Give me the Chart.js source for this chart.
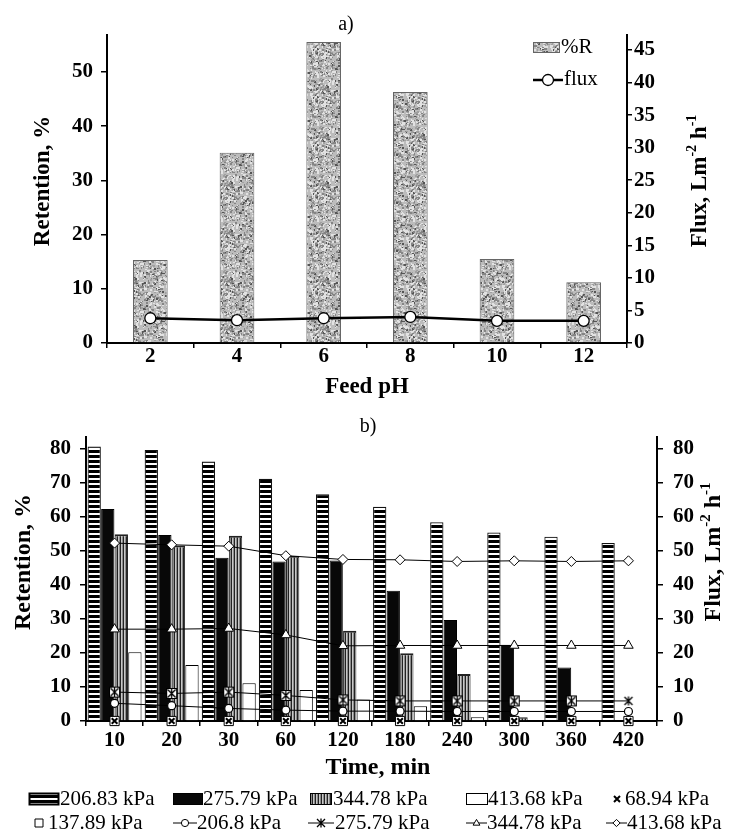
<!DOCTYPE html>
<html lang="en">
<head>
<meta charset="UTF-8">
<title>Retention and flux</title>
<script src="https://cdn.jsdelivr.net/npm/chart.js"></script>
<style>
  body { margin: 0; background: #fff; }
  canvas { display: block; }
</style>
</head>
<body>
<canvas id="chartA" width="734" height="405"></canvas>
<canvas id="chartB" width="734" height="427"></canvas>
<script>
// ---- data: a) feed pH ----
const phLabels = ['2', '4', '6', '8', '10', '12'];
const retentionPH = [15.3, 35.1, 55.5, 46.3, 15.5, 11.2];
const fluxPH = [3.8, 3.5, 3.8, 4.0, 3.4, 3.4];

// ---- data: b) time ----
const timeLabels = ['10', '20', '30', '60', '120', '180', '240', '300', '360', '420'];
const ret20683 = [80.7, 79.7, 76.3, 71.2, 66.7, 63.0, 58.4, 55.4, 54.2, 52.3];
const ret27579 = [62.3, 54.7, 48.0, 46.9, 47.2, 38.3, 29.7, 22.4, 15.7, 0];
const ret34478 = [54.9, 51.6, 54.5, 48.6, 26.5, 19.9, 13.8, 1.1, 0, 0];
const ret41368 = [20.2, 16.5, 11.1, 9.1, 6.3, 4.3, 1.1, 0, 0, 0];
const flux6894 = [0, 0, 0, 0, 0, 0, 0, 0, 0, 0];
const flux13789 = [0, 0, 0, 0, 0, 0, 0, 0, 0, 0];
const flux2068 = [5.2, 4.5, 3.7, 3.2, 2.9, 2.9, 2.8, 2.8, 2.8, 2.8];
const flux27579 = [8.5, 8.1, 8.5, 7.5, 6.2, 5.9, 5.9, 5.9, 5.9, 5.9];
const flux34478 = [27.0, 27.0, 27.2, 25.3, 22.1, 22.2, 22.2, 22.2, 22.2, 22.2];
const flux41368 = [52.3, 51.8, 51.4, 48.6, 47.5, 47.4, 46.9, 47.1, 46.9, 47.1];

const FONT = '"Liberation Serif", "Times New Roman", serif';

// ---- fill patterns ----
function tile(w, h, paint) {
  const c = document.createElement('canvas');
  c.width = w; c.height = h;
  paint(c.getContext('2d'));
  return c;
}
const graniteTile = tile(48, 48, g => {
  g.fillStyle = '#bcbcbc';
  g.fillRect(0, 0, 48, 48);
  let s = 11;
  const next = () => { s = (s * 16807) % 2147483647; return s / 2147483647; };
  for (let i = 0; i < 700; i++) {
    const x = Math.floor(next() * 48), y = Math.floor(next() * 48), t = next();
    g.fillStyle = t < 0.3 ? '#858585' : t < 0.42 ? '#555' : t < 0.8 ? '#e2e2e2' : '#a0a0a0';
    g.fillRect(x, y, next() < 0.6 ? 2 : 1, next() < 0.6 ? 2 : 1);
  }
});
const hStripeTile = tile(1, 5, g => {
  g.fillStyle = '#fff'; g.fillRect(0, 0, 1, 5);
  g.fillStyle = '#000'; g.fillRect(0, 0, 1, 3);
});
const vStripeTile = tile(3, 1, g => {
  g.fillStyle = '#222'; g.fillRect(0, 0, 1, 1);
  g.fillStyle = '#c8c8c8'; g.fillRect(1, 0, 1, 1);
  g.fillStyle = '#8c8c8c'; g.fillRect(2, 0, 1, 1);
});
function starMark(boxed) {
  const n = boxed ? 13 : 12;
  return tile(n, n, g => {
    const m = n / 2, r = 4;
    if (boxed) {
      g.fillStyle = '#fff'; g.fillRect(1.5, 1.5, n - 3, n - 3);
      g.strokeStyle = '#000'; g.lineWidth = 1; g.strokeRect(1.5, 1.5, n - 3, n - 3);
    }
    g.strokeStyle = '#000'; g.lineWidth = 1.3;
    g.beginPath();
    g.moveTo(m - r, m - r); g.lineTo(m + r, m + r);
    g.moveTo(m + r, m - r); g.lineTo(m - r, m + r);
    g.moveTo(m, m - r - 0.5); g.lineTo(m, m + r + 0.5);
    g.stroke();
  });
}
const boxedStar = starMark(true);
const plainStar = starMark(false);

const ctxA = document.getElementById('chartA').getContext('2d');
const ctxB = document.getElementById('chartB').getContext('2d');
const granite = ctxA.createPattern(graniteTile, 'repeat');
const hStripes = ctxB.createPattern(hStripeTile, 'repeat');
const vStripes = ctxB.createPattern(vStripeTile, 'repeat');

// ---- small drawing helpers for titles and legends ----
function drawText(ctx, t) {
  ctx.save();
  ctx.fillStyle = '#000';
  ctx.textBaseline = 'middle';
  ctx.translate(t.x, t.y);
  if (t.rot) ctx.rotate(t.rot);
  const size = t.size, weight = t.bold ? 'bold ' : '';
  const parts = t.parts || [{ s: t.text }];
  let total = 0;
  parts.forEach(p => {
    ctx.font = weight + Math.round(p.sup ? size * 0.62 : size) + 'px ' + FONT;
    p.w = ctx.measureText(p.s).width;
    total += p.w;
  });
  let x = t.align === 'left' ? 0 : -total / 2;
  parts.forEach(p => {
    ctx.font = weight + Math.round(p.sup ? size * 0.62 : size) + 'px ' + FONT;
    ctx.textAlign = 'left';
    ctx.fillText(p.s, x, p.sup ? -size * 0.33 : 0);
    x += p.w;
  });
  ctx.restore();
}
function drawMarker(ctx, style, x, y, r, lw) {
  ctx.save();
  ctx.strokeStyle = '#000';
  ctx.fillStyle = '#fff';
  ctx.lineWidth = lw || 1;
  if (style === 'star') {
    ctx.drawImage(plainStar, x - plainStar.width / 2, y - plainStar.height / 2);
    ctx.restore();
    return;
  }
  ctx.beginPath();
  if (style === 'circle') {
    ctx.arc(x, y, r, 0, Math.PI * 2);
  } else if (style === 'triangle') {
    ctx.moveTo(x, y - r); ctx.lineTo(x + r * 0.95, y + r * 0.6); ctx.lineTo(x - r * 0.95, y + r * 0.6); ctx.closePath();
  } else if (style === 'rectRot') {
    ctx.moveTo(x, y - r); ctx.lineTo(x + r, y); ctx.lineTo(x, y + r); ctx.lineTo(x - r, y); ctx.closePath();
  } else if (style === 'rect') {
    ctx.rect(x - r, y - r, 2 * r, 2 * r);
  } else if (style === 'crossRot') {
    ctx.moveTo(x - r, y - r); ctx.lineTo(x + r, y + r); ctx.moveTo(x + r, y - r); ctx.lineTo(x - r, y + r);
    ctx.stroke(); ctx.restore(); return;
  }
  ctx.fill(); ctx.stroke();
  ctx.restore();
}

const fluxTitle = [{ s: 'Flux, Lm' }, { s: '-2', sup: true }, { s: ' h' }, { s: '-1', sup: true }];

// ---- chart a) ----
const tickFont = { family: FONT, size: 21, weight: 'bold' };

new Chart(ctxA, {
  type: 'bar',
  data: {
    labels: phLabels,
    datasets: [
      {
        type: 'line', label: 'flux', data: fluxPH, yAxisID: 'y1',
        borderColor: '#000', borderWidth: 2.5,
        pointStyle: 'circle', pointRadius: 5.5, pointBorderWidth: 1.3,
        pointBackgroundColor: '#fff', pointBorderColor: '#000',
        order: 0, clip: false
      },
      {
        label: '%R', data: retentionPH, yAxisID: 'y',
        backgroundColor: granite, borderColor: '#666', borderWidth: 1,
        barPercentage: 0.4, categoryPercentage: 1, order: 1
      }
    ]
  },
  options: {
    responsive: false,
    animation: false,
    layout: { padding: { top: 35, left: 0, right: 0, bottom: 0 } },
    plugins: { legend: { display: false }, tooltip: { enabled: false } },
    scales: {
      x: {
        ticks: { color: '#000', font: tickFont, padding: -4 },
        grid: { drawOnChartArea: false, tickLength: 5, color: '#000', lineWidth: 1.5 },
        border: { color: '#000', width: 2 },
        afterFit: s => { s.height = 62; }
      },
      y: {
        position: 'left', min: 0, max: 56.8,
        ticks: { stepSize: 10, includeBounds: false, color: '#000', font: tickFont, padding: 8 },
        grid: { drawOnChartArea: false, tickLength: 6, color: '#000', lineWidth: 1.5 },
        border: { color: '#000', width: 2 },
        afterFit: s => { s.width = 107; }
      },
      y1: {
        position: 'right', min: 0, max: 47.3,
        ticks: { stepSize: 5, includeBounds: false, color: '#000', font: tickFont, padding: 2 },
        grid: { drawOnChartArea: false, tickLength: 5, color: '#000', lineWidth: 1.5 },
        border: { color: '#000', width: 2 },
        afterFit: s => { s.width = 107; }
      }
    }
  },
  plugins: [{
    id: 'decorA',
    afterDraw(chart) {
      const ctx = chart.ctx;
      drawText(ctx, { text: 'a)', x: 346, y: 25, size: 20 });
      drawText(ctx, { text: 'Retention, %', x: 43, y: 181, size: 23, bold: true, rot: -Math.PI / 2 });
      drawText(ctx, { parts: fluxTitle, x: 700, y: 181, size: 23, bold: true, rot: -Math.PI / 2 });
      drawText(ctx, { text: 'Feed pH', x: 367, y: 387, size: 23, bold: true });
      // legend
      const bar = chart.data.datasets[1];
      ctx.save();
      ctx.fillStyle = bar.backgroundColor;
      ctx.fillRect(533, 42, 27, 11);
      ctx.strokeStyle = '#666'; ctx.lineWidth = 1;
      ctx.strokeRect(533.5, 42.5, 26, 10);
      ctx.restore();
      drawText(ctx, { text: bar.label, x: 561, y: 47, size: 21, align: 'left' });
      ctx.save();
      ctx.strokeStyle = '#000'; ctx.lineWidth = 2.5;
      ctx.beginPath(); ctx.moveTo(533, 80); ctx.lineTo(563, 80); ctx.stroke();
      ctx.restore();
      drawMarker(ctx, 'circle', 548, 80, 5.5, 1.3);
      drawText(ctx, { text: chart.data.datasets[0].label, x: 564, y: 79, size: 21, align: 'left' });
    }
  }]
});

// ---- chart b) ----
const lineBase = {
  type: 'line', yAxisID: 'y1', borderColor: '#000', borderWidth: 1,
  pointBackgroundColor: '#fff', pointBorderColor: '#000', pointBorderWidth: 1,
  order: 0, clip: false
};
const barBase = { yAxisID: 'y', barPercentage: 0.98, categoryPercentage: 0.95, order: 1 };

const datasetsB = [
  Object.assign({}, lineBase, { label: '68.94 kPa', data: flux6894, showLine: false, pointStyle: 'crossRot', pointRadius: 4, pointBorderWidth: 2, mark: 'crossRot' }),
  Object.assign({}, lineBase, { label: '137.89 kPa', data: flux13789, showLine: false, pointStyle: 'rect', pointRadius: 6.5, mark: 'rect' }),
  Object.assign({}, lineBase, { label: '206.8 kPa', data: flux2068, pointStyle: 'circle', pointRadius: 4, pointBorderWidth: 1.2, mark: 'circle' }),
  Object.assign({}, lineBase, { label: '275.79 kPa', data: flux27579, pointRadius: 6,
    pointStyle: c => (c.dataIndex < timeLabels.length - 1 ? boxedStar : plainStar), mark: 'star' }),
  Object.assign({}, lineBase, { label: '344.78 kPa', data: flux34478, pointStyle: 'triangle', pointRadius: 5.5, mark: 'triangle' }),
  Object.assign({}, lineBase, { label: '413.68 kPa', data: flux41368, pointStyle: 'rectRot', pointRadius: 5, mark: 'rectRot' }),
  Object.assign({}, barBase, { label: '206.83 kPa', data: ret20683, backgroundColor: hStripes, borderColor: '#111', borderWidth: 1.2 }),
  Object.assign({}, barBase, { label: '275.79 kPa', data: ret27579, backgroundColor: '#080808', borderColor: '#000', borderWidth: 1 }),
  Object.assign({}, barBase, { label: '344.78 kPa', data: ret34478, backgroundColor: vStripes, borderColor: '#222', borderWidth: { top: 2, left: 1, right: 1 } }),
  Object.assign({}, barBase, { label: '413.68 kPa', data: ret41368, backgroundColor: '#fff', borderColor: '#000', borderWidth: 1 })
];

// legend layout: [dataset index, icon left, icon width, text left]
const legendRow1 = [[6, 29, 30, 60], [7, 173, 30, 203], [8, 310, 22, 333], [9, 466, 22, 488], [0, 612, 10, 625]];
const legendRow2 = [[1, 34, 10, 48], [2, 173, 24, 197], [3, 308, 26, 335], [4, 466, 21, 487], [5, 606, 21, 627]];

new Chart(ctxB, {
  type: 'bar',
  data: { labels: timeLabels, datasets: datasetsB },
  options: {
    responsive: false,
    animation: false,
    layout: { padding: { top: 32, left: 0, right: 0, bottom: 0 } },
    plugins: { legend: { display: false }, tooltip: { enabled: false } },
    scales: {
      x: {
        ticks: { color: '#000', font: tickFont, padding: 2 },
        grid: { drawOnChartArea: false, tickLength: 5, color: '#000', lineWidth: 1.5 },
        border: { color: '#000', width: 2 },
        afterFit: s => { s.height = 111; }
      },
      y: {
        position: 'left', min: 0, max: 83.5,
        ticks: { stepSize: 10, includeBounds: false, color: '#000', font: tickFont, padding: 9 },
        grid: { drawOnChartArea: false, tickLength: 6, color: '#000', lineWidth: 1.5 },
        border: { color: '#000', width: 2 },
        afterFit: s => { s.width = 86; }
      },
      y1: {
        position: 'right', min: 0, max: 83.5,
        ticks: { stepSize: 10, includeBounds: false, color: '#000', font: tickFont, padding: 10 },
        grid: { drawOnChartArea: false, tickLength: 6, color: '#000', lineWidth: 1.5 },
        border: { color: '#000', width: 2 },
        afterFit: s => { s.width = 77; }
      }
    }
  },
  plugins: [{
    id: 'decorB',
    afterDraw(chart) {
      const ctx = chart.ctx;
      const ds = chart.data.datasets;
      drawText(ctx, { text: 'b)', x: 368, y: 22, size: 20 });
      drawText(ctx, { text: 'Retention, %', x: 24, y: 157, size: 24, bold: true, rot: -Math.PI / 2 });
      drawText(ctx, { parts: fluxTitle, x: 714, y: 147, size: 24, bold: true, rot: -Math.PI / 2 });
      drawText(ctx, { text: 'Time, min', x: 378, y: 363, size: 24, bold: true });

      const rows = [[legendRow1, 394], [legendRow2, 418]];
      rows.forEach(([row, cy]) => {
        row.forEach(([i, x, w, tx]) => {
          const d = ds[i];
          if (d.type === 'line') {
            if (d.showLine !== false) {
              ctx.save();
              ctx.strokeStyle = '#000'; ctx.lineWidth = 1;
              ctx.beginPath(); ctx.moveTo(x, cy); ctx.lineTo(x + w, cy); ctx.stroke();
              ctx.restore();
            }
            const r = d.mark === 'rect' ? 4 : d.mark === 'crossRot' ? 3 : 3.6;
            drawMarker(ctx, d.mark, x + w / 2, cy, r, d.mark === 'crossRot' ? 2 : 1);
          } else {
            ctx.save();
            ctx.fillStyle = d.backgroundColor;
            ctx.fillRect(x, cy - 6, w, 12);
            ctx.strokeStyle = '#000'; ctx.lineWidth = i === 6 ? 2 : 1;
            ctx.strokeRect(x + 0.5, cy - 5.5, w - 1, 11);
            ctx.restore();
          }
          drawText(ctx, { text: d.label, x: tx, y: cy, size: 21, align: 'left' });
        });
      });
    }
  }]
});
</script>
</body>
</html>
